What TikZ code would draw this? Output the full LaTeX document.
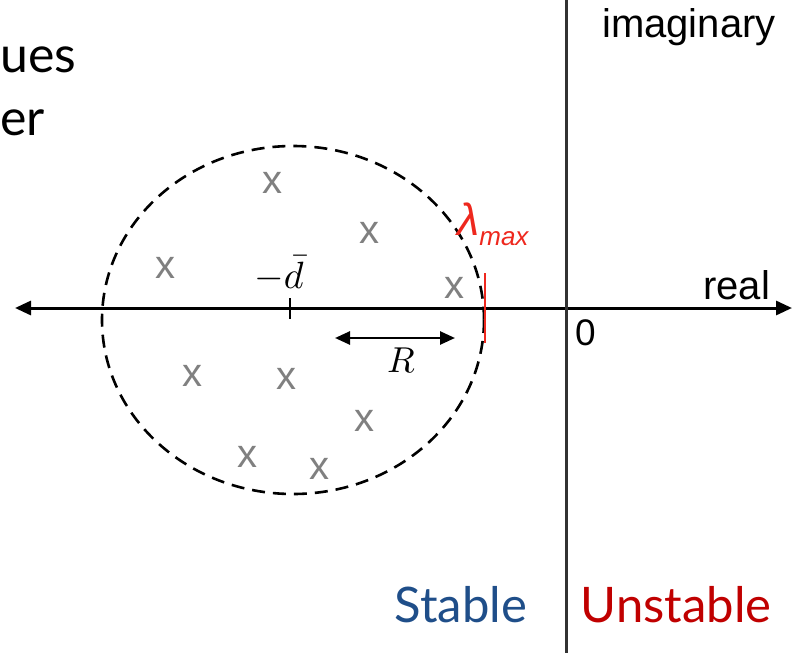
\documentclass[tikz,border=0pt]{standalone}
\usepackage{fontspec}
\setmainfont{Liberation Sans}
\newfontfamily\latofont{Lato}
\usetikzlibrary{arrows.meta}
\definecolor{stableblue}{RGB}{31,78,137}
\definecolor{unstred}{RGB}{192,0,0}
\definecolor{lamred}{RGB}{238,40,30}
\definecolor{xgray}{RGB}{128,128,128}
\definecolor{imaxis}{RGB}{50,50,50}
\begin{document}
\begin{tikzpicture}[x=1pt,y=-1pt,
  axisline/.style={line width=3pt},
  evx/.style={text=xgray,font=\fontsize{40}{40}\selectfont,inner sep=0pt},
  lbl/.style={inner sep=0pt,font=\fontsize{40}{44}\selectfont},
  gothic/.style={inner sep=0pt,font=\latofont\fontsize{49}{52}\selectfont},
  mathlbl/.style={inner sep=0pt,anchor=base,font=\fontsize{10}{12}\selectfont}]
\useasboundingbox (0,0) rectangle (792,653);
% axes
\coordinate (rl) at (15,308);
\coordinate (rr) at (792,308);
\draw[axisline,{Triangle[length=16pt,width=14pt]}-{Triangle[length=16pt,width=14pt]}] (rl) -- (rr);
\coordinate (it) at (566,0);
\coordinate (ib) at (566,653);
\draw[line width=3pt,imaxis] (it) -- (ib);
% dashed circle
\coordinate (cc) at (293,320);
\draw[line width=2.6pt,dash pattern=on 13pt off 8pt] (cc) ellipse [x radius=191, y radius=174];
% eigenvalues
\node[evx] (x1) at (272,183) {x};
\node[evx] (x2) at (369,233) {x};
\node[evx] (x3) at (165,268) {x};
\node[evx] (x4) at (454,288) {x};
\node[evx] (x5) at (192,376) {x};
\node[evx] (x6) at (286,379) {x};
\node[evx] (x7) at (364,421) {x};
\node[evx] (x8) at (247,457) {x};
\node[evx] (x9) at (319,469) {x};
% -dbar tick and label
\coordinate (tt) at (290,298);
\coordinate (tb) at (290,319);
\draw[line width=2.6pt] (tt) -- (tb);
\node[mathlbl] (dbar) at (279,288) {\scalebox{3.8}{$-\bar{d}$}};
% R arrow
\coordinate (ra) at (335,338);
\coordinate (rb) at (455,338);
\draw[line width=2.6pt,{Triangle[length=15pt,width=13pt]}-{Triangle[length=15pt,width=13pt]}] (ra) -- (rb);
\node[mathlbl] (rlab) at (401,372) {\scalebox{3.6}{$R$}};
% lambda max
\coordinate (lt) at (485,273);
\coordinate (lb) at (485,343);
\draw[line width=2.6pt,lamred] (lt) -- (lb);
\node[inner sep=0pt,anchor=base west,text=lamred,font=\fontsize{45}{46}\selectfont] (lam) at (457,235) {\itshape λ\raisebox{-10pt}{\fontsize{26}{28}\selectfont max}};
% axis labels
\node[lbl,anchor=base west] (imag) at (602,37) {imaginary};
\node[lbl,anchor=base west] (real) at (703,299) {real};
\node[inner sep=0pt,anchor=base west,font=\fontsize{37}{40}\selectfont] (zero) at (575,345) {0};
% stable / unstable
\node[gothic,anchor=base,text=stableblue] (stable) at (461,622) {Stable};
\node[gothic,anchor=base,text=unstred] (unstable) at (676,622) {Unstable};
% cropped title text
\node[gothic,anchor=base west,font=\latofont\fontsize{50}{52}\selectfont] (t1) at (0,72) {ues};
\node[gothic,anchor=base west,font=\latofont\fontsize{50}{52}\selectfont] (t2) at (0,135) {er};
\end{tikzpicture}
\end{document}
